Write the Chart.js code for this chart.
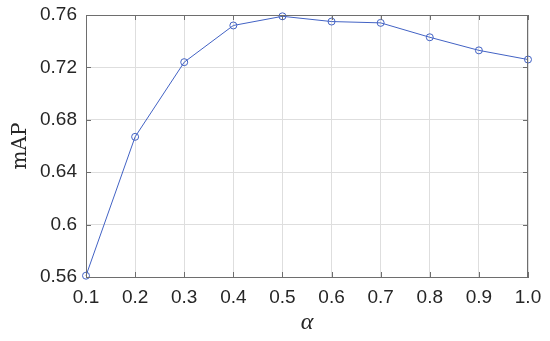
<!DOCTYPE html>
<html>

<head>
    <title>mAP vs alpha</title>
    <meta charset="utf-8">
    <script src="https://cdn.jsdelivr.net/npm/chart.js@4.4.1/dist/chart.umd.min.js"></script>
    <style>
        html, body { margin: 0; padding: 0; background: #fff; }
        #wrap { width: 550px; height: 341px; }
    </style>
</head>

<body>
    <div id="wrap"><canvas id="map_chart"></canvas></div>
</body>
<script>
    // values
    const alphas = [0.1, 0.2, 0.3, 0.4, 0.5, 0.6, 0.7, 0.8, 0.9, 1.0];
    const mapValues = [0.561, 0.667, 0.724, 0.752, 0.759, 0.755, 0.754, 0.743, 0.733, 0.726];
    const xTicks = [0.1, 0.2, 0.3, 0.4, 0.5, 0.6, 0.7, 0.8, 0.9, 1.0];
    const yTicks = [0.56, 0.6, 0.64, 0.68, 0.72, 0.76];

    const axisColor = '#6e6e6e';
    const textColor = '#262626';

    // box on top/right plus little inward ticks, like matlab
    const matlabBox = {
        id: 'matlabBox',
        afterDraw(chart) {
            const ctx = chart.ctx;
            const a = chart.chartArea;
            const xs = chart.scales.x, ys = chart.scales.y;
            ctx.save();
            ctx.strokeStyle = axisColor;
            ctx.lineWidth = 1;
            ctx.beginPath();
            ctx.moveTo(a.left, a.top + 0.5);
            ctx.lineTo(a.right, a.top + 0.5);
            ctx.moveTo(a.right - 0.5, a.top);
            ctx.lineTo(a.right - 0.5, a.bottom);
            xs.ticks.forEach((t, i) => {
                const px = Math.round(xs.getPixelForTick(i)) + 0.5;
                ctx.moveTo(px, a.bottom); ctx.lineTo(px, a.bottom - 5);
                ctx.moveTo(px, a.top); ctx.lineTo(px, a.top + 5);
            });
            ys.ticks.forEach((t, i) => {
                const py = Math.round(ys.getPixelForTick(i)) + 0.5;
                ctx.moveTo(a.left, py); ctx.lineTo(a.left + 5, py);
                ctx.moveTo(a.right, py); ctx.lineTo(a.right - 5, py);
            });
            ctx.stroke();
            ctx.restore();
        }
    };

    const points = alphas.map((x, i) => ({ x: x, y: mapValues[i] }));

    new Chart('map_chart', {
        type: 'line',
        data: {
            datasets: [{
                label: 'mAP',
                data: points,
                borderColor: '#4262c4',
                borderWidth: 1,
                backgroundColor: 'rgba(0,0,0,0)',
                pointRadius: 3.5,
                pointBorderWidth: 1,
                pointBorderColor: '#4262c4',
                pointBackgroundColor: 'rgba(0,0,0,0)',
                tension: 0,
                clip: false
            }]
        },
        options: {
            responsive: true,
            maintainAspectRatio: false,
            animation: false,
            layout: { padding: { left: 0, top: 15, right: 22, bottom: 0 } },
            plugins: { legend: { display: false }, tooltip: { enabled: false } },
            scales: {
                x: {
                    type: 'linear',
                    min: 0.1, max: 1.0,
                    afterBuildTicks: s => { s.ticks = xTicks.map(v => ({ value: v })); },
                    afterFit: s => { s.height = 64; s.paddingLeft = 0; s.paddingRight = 0; },
                    ticks: {
                        color: textColor,
                        font: { family: 'Liberation Sans', size: 19 },
                        padding: 9,
                        maxRotation: 0,
                        callback: v => v.toFixed(1)
                    },
                    grid: { color: '#dedede', drawTicks: false },
                    border: { color: axisColor },
                    title: {
                        display: true,
                        text: 'α',
                        color: textColor,
                        font: { family: 'Liberation Serif', size: 24, style: 'italic' },
                        padding: { top: 0, bottom: 4 }
                    }
                },
                y: {
                    min: 0.56, max: 0.76,
                    afterBuildTicks: s => { s.ticks = yTicks.map(v => ({ value: v })); },
                    afterFit: s => { s.width = 86; s.paddingTop = 0; s.paddingBottom = 0; },
                    ticks: {
                        color: textColor,
                        font: { family: 'Liberation Sans', size: 19 },
                        padding: 9,
                        callback: v => String(parseFloat(v.toFixed(2)))
                    },
                    grid: { color: '#dedede', drawTicks: false },
                    border: { color: axisColor },
                    title: {
                        display: true,
                        text: 'mAP',
                        color: textColor,
                        font: { family: 'DejaVu Serif', size: 20 },
                        padding: { top: 9, bottom: 0 }
                    }
                }
            }
        },
        plugins: [matlabBox]
    });
</script>
</html>
